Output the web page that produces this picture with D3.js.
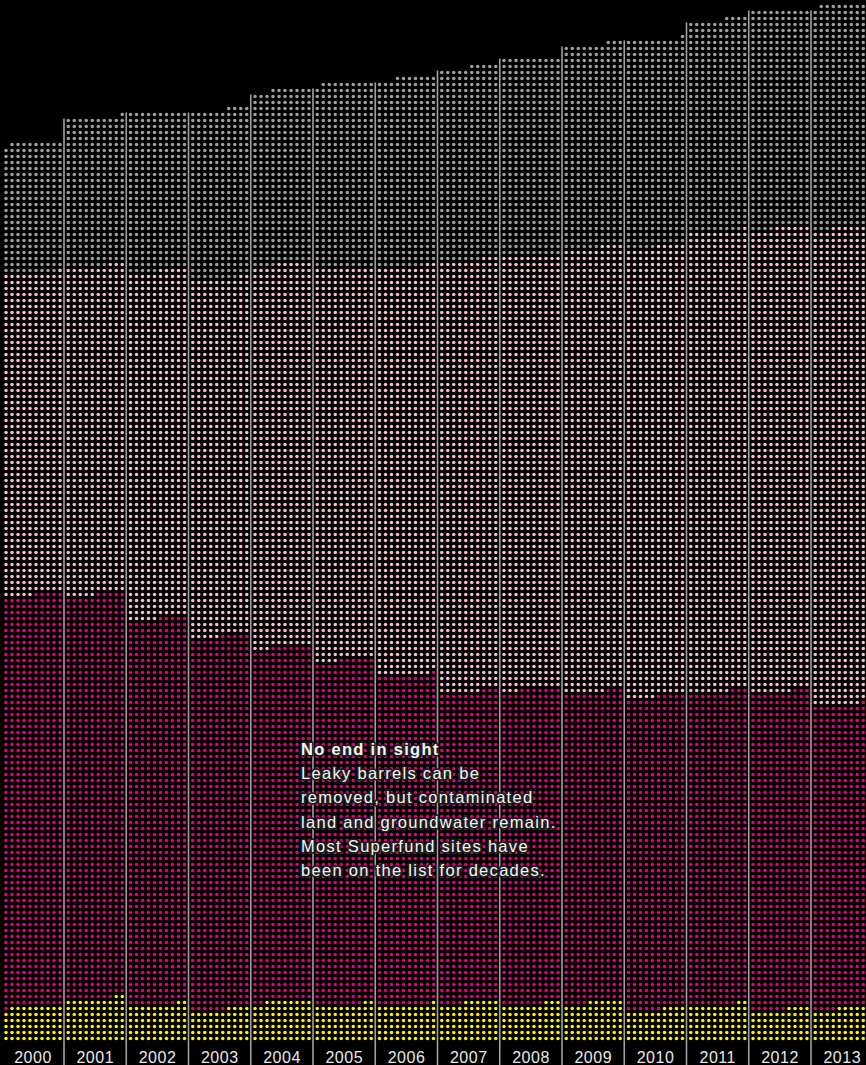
<!DOCTYPE html>
<html><head><meta charset="utf-8">
<script src="https://cdn.jsdelivr.net/npm/d3@7"></script>
<style>
html,body{margin:0;padding:0;background:#000;}
svg{display:block;}
</style>
</head><body>
<svg id="chart" width="866" height="1065"></svg>
<script>
// ---- data (sites per year, stacked bottom-up) ----
const years   = [2000,2001,2002,2003,2004,2005,2006,2007,2008,2009,2010,2011,2012,2013];
const yellowSites  = [59, 72, 62, 54, 68, 62, 61, 66, 63, 66, 54, 62, 54, 56];
const magentaSites = [686,673,643,621,589,574,550,517,524,517,521,521,529,506];
const pinkSites    = [536,548,580,597,639,654,681,720,723,741,750,768,773,795];
const graySites    = [218,248,265,282,291,309,315,322,330,339,346,353,364,372];
const seriesNames  = ["yellow","magenta","pink","gray"];
const seriesColors = {yellow:"#fff200", magenta:"#e6007e", pink:"#f7c0d2", gray:"#a0a0a0"};
const noteTitle = "No end in sight";
const noteLines = ["Leaky barrels can be","removed, but contaminated","land and groundwater remain.","Most Superfund sites have","been on the list for decades."];

const seriesValues = {yellow:yellowSites, magenta:magentaSites, pink:pinkSites, gray:graySites};
const perRow = 10;

const svg = d3.select("#chart");
svg.append("rect").attr("width",866).attr("height",1065).attr("fill","#000");

const colW = 62.25;
const x = d3.scaleBand().domain(years).range([0, colW*years.length]).paddingInner(0).paddingOuter(0);
const xDot = d3.scaleLinear().domain([0, perRow-1]).range([6, 60]);
const yRow = d3.scaleLinear().domain([0, 1]).range([1038.4, 1032.4]);

// build dots
const dots = [];
years.forEach((yr, j) => {
  let i = 0;
  seriesNames.forEach(s => {
    const n = seriesValues[s][j];
    for (let k = 0; k < n; k++, i++) {
      const row = Math.floor(i / perRow);
      const pos = perRow - 1 - (i % perRow);
      dots.push({year: yr, row, pos, s});
    }
  });
});

const totals = years.map((yr, j) => seriesNames.reduce((a, s) => a + seriesValues[s][j], 0));

// separator lines
svg.append("g").selectAll("line").data(years.slice(1)).join("line")
  .attr("x1", d => x(d) + 1.75).attr("x2", d => x(d) + 1.75)
  .attr("y1", d => yRow(Math.floor(totals[years.indexOf(d)] / perRow) - 1) - 2)
  .attr("y2", 1065)
  .attr("stroke", "#a0a0a0").attr("stroke-width", 1.6);

svg.append("g").selectAll("circle").data(dots).join("circle")
  .attr("cx", d => x(d.year) + xDot(d.pos))
  .attr("cy", d => yRow(d.row))
  .attr("r", 1.75)
  .attr("fill", d => seriesColors[d.s]);

// year labels
svg.append("g").selectAll("text").data(years).join("text")
  .attr("x", d => x(d) + 33)
  .attr("y", 1063)
  .attr("text-anchor", "middle")
  .attr("fill", "#e8e8e8")
  .attr("font-family", "Liberation Sans, Arial, Helvetica, sans-serif")
  .attr("font-size", 16)
  .attr("letter-spacing", 0.5)
  .text(d => d);

// annotation
const note = svg.append("g")
  .attr("font-family", "Liberation Sans, Arial, Helvetica, sans-serif")
  .attr("font-size", 16.5)
  .attr("letter-spacing", 1.3);
const allLines = [noteTitle].concat(noteLines);
note.selectAll("text").data(allLines).join("text")
  .attr("x", 301)
  .attr("y", (d, i) => 755 + i * 24.2)
  .attr("font-weight", (d, i) => i === 0 ? "bold" : "normal")
  .attr("fill", "#f4f4f4")
  .attr("stroke", "#1e1e1e")
  .attr("stroke-width", 3.5)
  .attr("stroke-linejoin", "round")
  .attr("paint-order", "stroke")
  .text(d => d);
</script>
</body></html>
